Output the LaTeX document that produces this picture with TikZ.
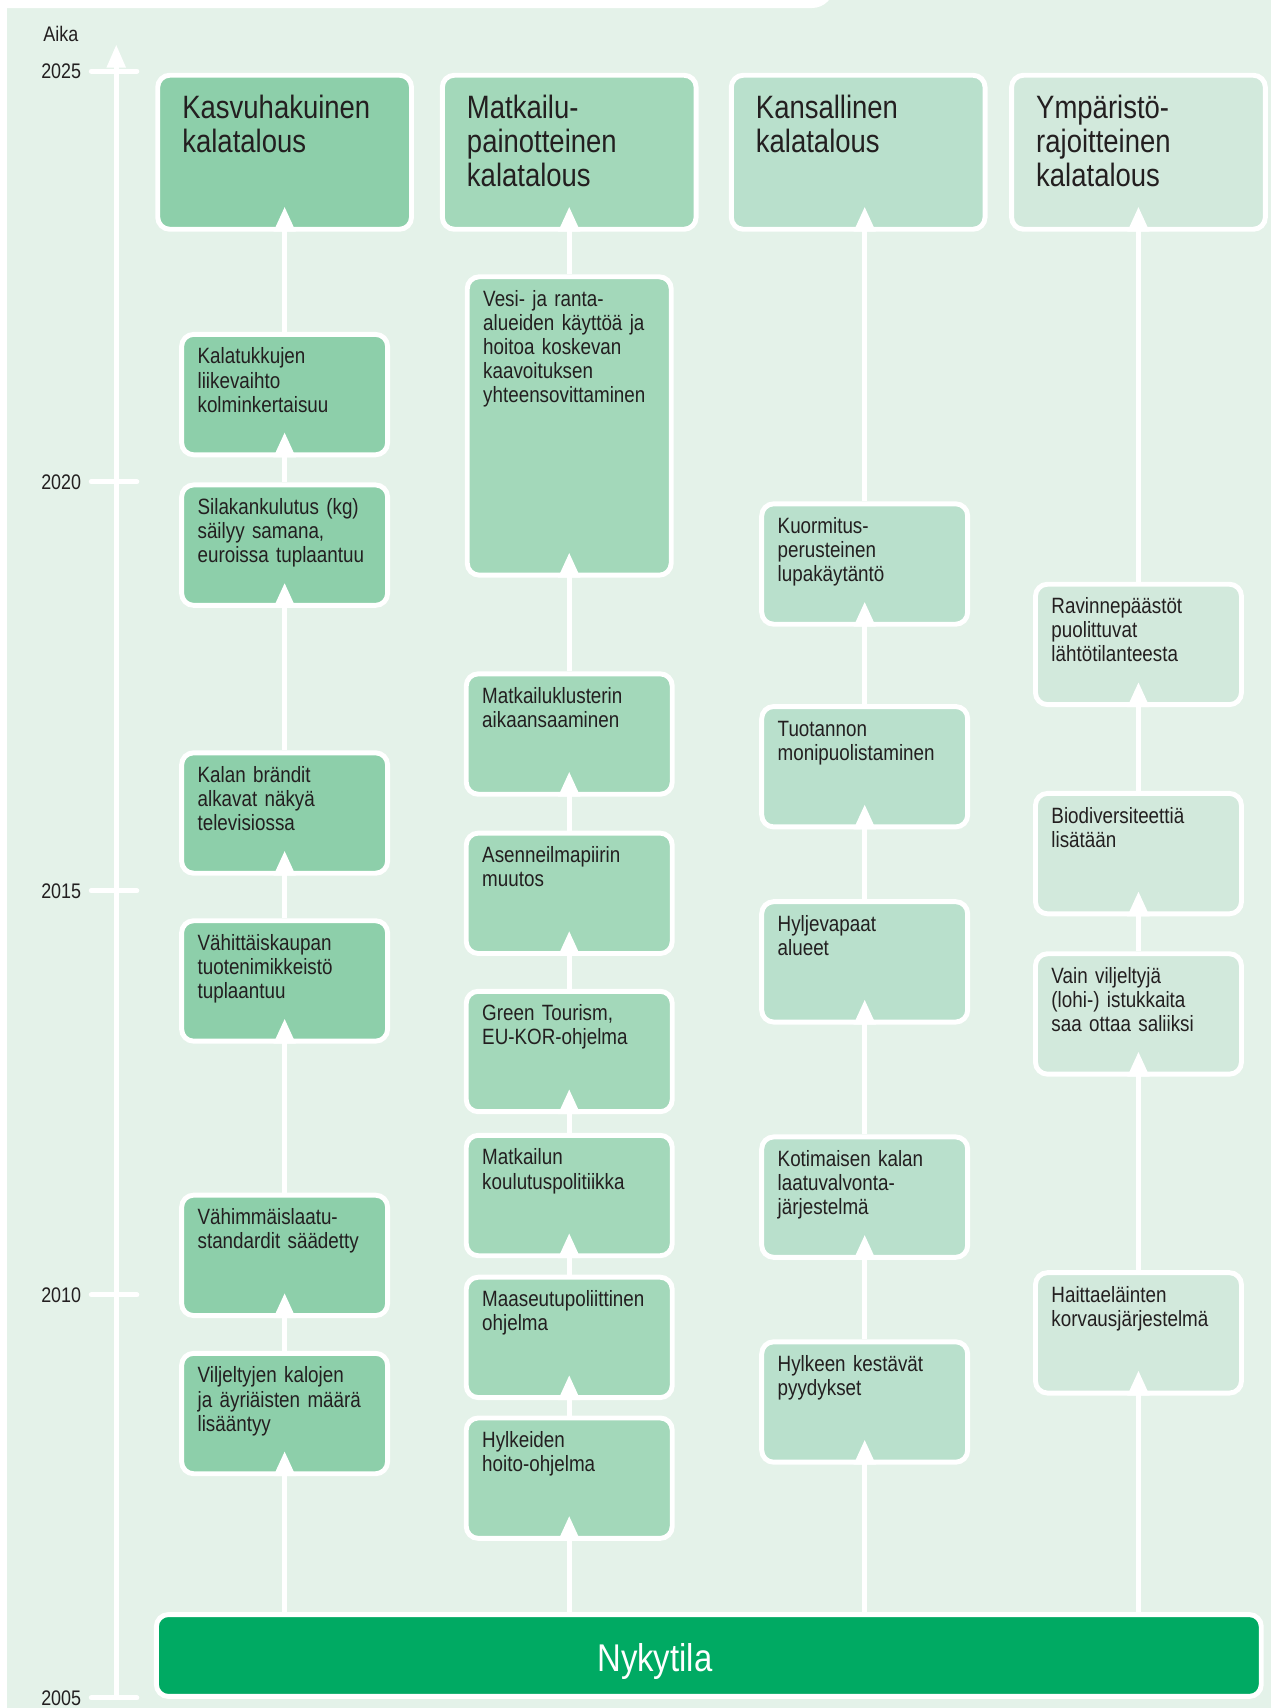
\documentclass[tikz,border=0pt]{standalone}
\usepackage{fontspec}
\setmainfont[FakeStretch=0.85]{Liberation Sans}
\usetikzlibrary{positioning,arrows.meta}

\definecolor{bgpale}{HTML}{E4F2E9}
\definecolor{kasvu}{HTML}{8DCFAA}
\definecolor{matka}{HTML}{A3D8BA}
\definecolor{kans}{HTML}{B9E0CC}
\definecolor{ymp}{HTML}{D2E9DC}
\definecolor{nyky}{HTML}{00AA63}
\definecolor{ink}{HTML}{231F20}

\begin{document}
\begin{tikzpicture}[x=0.021726cm, y=-0.021726cm,
    every node/.style={text=ink},
    base/.style={rectangle, rounded corners=0.24cm, draw=white,
                 line width=2.8pt, align=left, anchor=north},
    head/.style={base, font=\fontsize{18.4}{19.4}\selectfont,
                 text width=4.09cm, inner xsep=0.493cm, inner ysep=0.406cm,
                 text height=13.2pt, text depth=1.805cm},
    ev/.style={base, font=\fontsize{12.6}{13.7}\selectfont,
               text width=3.48cm, inner xsep=0.32cm, inner ysep=0.276cm,
               text height=9pt, text depth=1.54cm},
    yr/.style={anchor=east, inner sep=0pt, font=\fontsize{12}{14}\selectfont},
    tick/.style={draw=white, line width=2.8pt, line cap=round},
    flow/.style={draw=white, line width=2.8pt,
                 -{Triangle[width=0.42cm, length=0.5cm]}}]

   \useasboundingbox (0,0) rectangle (1170,1572.3);
   \fill[bgpale] (6.5,0) rectangle (1170,1572.3);
   \fill[white, rounded corners=0.45cm] (-30,-30) rectangle (768,7.4);

   % time axis
   \node[anchor=west, inner sep=0pt, font=\fontsize{12}{14}\selectfont] (aika) at (39.6,31) {Aika};
   \coordinate (ax0) at (107,1563);
   \coordinate (ax1) at (107,41);
   \draw[draw=white, line width=2.8pt,
         -{Triangle[width=0.36cm, length=0.46cm]}] (ax0) -- (ax1);
   \draw[tick] (84,65.5) -- (126,65.5);
   \draw[tick] (84,443.5) -- (126,443.5);
   \draw[tick] (84,820) -- (126,820);
   \draw[tick] (84,1192) -- (126,1192);
   \draw[tick] (84,1563) -- (126,1563);
   \node[yr] (y2025) at (75,65.5) {2025};
   \node[yr] (y2020) at (75,443.5) {2020};
   \node[yr] (y2015) at (75,820) {2015};
   \node[yr] (y2010) at (75,1192) {2010};
   \node[yr] (y2005) at (75,1563) {2005};

   % scenario headers
   \node[head, fill=kasvu] (h1) at (262,67) {Kasvuhakuinen\\kalatalous};
   \node[head, fill=matka] (h2) at (524,67) {Matkailu-\\painotteinen\\kalatalous};
   \node[head, fill=kans] (h3) at (790,67) {Kansallinen\\kalatalous};
   \node[head, fill=ymp] (h4) at (1048,67) {Ympäristö-\\rajoitteinen\\kalatalous};

   % column 1
   \node[ev, fill=kasvu, below=2.004cm of h1] (k1) {Kalatukkujen\\liikevaihto\\kolminkertaisuu};
   \node[ev, fill=kasvu, below=0.505cm of k1] (k2) {Silakankulutus (kg)\\säilyy samana,\\euroissa tuplaantuu};
   \node[ev, fill=kasvu, below=2.851cm of k2] (k3) {Kalan brändit\\alkavat näkyä\\televisiossa};
   \node[ev, fill=kasvu, below=0.852cm of k3] (k4) {Vähittäiskaupan\\tuotenimikkeistö\\tuplaantuu};
   \node[ev, fill=kasvu, below=2.982cm of k4] (k5) {Vähimmäislaatu-\\standardit säädetty};
   \node[ev, fill=kasvu, below=0.657cm of k5] (k6) {Viljeltyjen kalojen\\ja äyriäisten määrä\\lisääntyy};

   % column 2
   \node[ev, fill=matka, below=0.852cm of h2,
         text width=3.44cm, text depth=5.10cm] (m1) {Vesi- ja ranta-\\alueiden käyttöä ja\\hoitoa koskevan\\kaavoituksen\\yhteensovittaminen};
   \node[ev, fill=matka, below=1.875cm of m1] (m2) {Matkailuklusterin\\aikaansaaminen};
   \node[ev, fill=matka, below=0.679cm of m2] (m3) {Asenneilmapiirin\\muutos};
   \node[ev, fill=matka, below=0.657cm of m3] (m4) {Green Tourism,\\EU-KOR-ohjelma};
   \node[ev, fill=matka, below=0.374cm of m4] (m5) {Matkailun\\koulutuspolitiikka};
   \node[ev, fill=matka, below=0.331cm of m5] (m6) {Maaseutupoliittinen\\ohjelma};
   \node[ev, fill=matka, below=0.309cm of m6] (m7) {Hylkeiden\\hoito-ohjelma};

   % column 3
   \node[ev, fill=kans, below=5.393cm of h3, xshift=0.13cm] (c1) {Kuormitus-\\perusteinen\\lupakäytäntö};
   \node[ev, fill=kans, below=1.548cm of c1] (c2) {Tuotannon\\monipuolistaminen};
   \node[ev, fill=kans, below=1.396cm of c2] (c3) {Hyljevapaat\\alueet};
   \node[ev, fill=kans, below=2.199cm of c3] (c4) {Kotimaisen kalan\\laatuvalvonta-\\järjestelmä};
   \node[ev, fill=kans, below=1.591cm of c4] (c5) {Hylkeen kestävät\\pyydykset};

   % column 4
   \node[ev, fill=ymp, below=7.001cm of h4] (e1) {Ravinnepäästöt\\puolittuvat\\lähtötilanteesta};
   \node[ev, fill=ymp, below=1.678cm of e1] (e2) {Biodiversiteettiä\\lisätään};
   \node[ev, fill=ymp, below=0.700cm of e2] (e3) {Vain viljeltyjä\\(lohi-) istukkaita\\saa ottaa saliiksi};
   \node[ev, fill=ymp, below=3.872cm of e3] (e4) {Haittaeläinten\\korvausjärjestelmä};

   % present state
   \node[base, fill=nyky, minimum width=22.1cm, minimum height=1.638cm, inner sep=0pt,
         label={[text=white, font=\fontsize{22}{24}\selectfont,
                 xshift=-1.08cm, yshift=-0.11cm]center:Nykytila}]
         (ny) at (652.5,1484) {};

   % paths upwards
   \draw[flow] (ny.north -| k6) -- ([yshift=0.5cm]k6.south);
   \draw[flow] (k6) -- ([yshift=0.5cm]k5.south);
   \draw[flow] (k5) -- ([yshift=0.5cm]k4.south);
   \draw[flow] (k4) -- ([yshift=0.5cm]k3.south);
   \draw[flow] (k3) -- ([yshift=0.5cm]k2.south);
   \draw[flow] (k2) -- ([yshift=0.5cm]k1.south);
   \draw[flow] (k1) -- ([yshift=0.5cm]h1.south);

   \draw[flow] (ny.north -| m7) -- ([yshift=0.5cm]m7.south);
   \draw[flow] (m7) -- ([yshift=0.5cm]m6.south);
   \draw[flow] (m6) -- ([yshift=0.5cm]m5.south);
   \draw[flow] (m5) -- ([yshift=0.5cm]m4.south);
   \draw[flow] (m4) -- ([yshift=0.5cm]m3.south);
   \draw[flow] (m3) -- ([yshift=0.5cm]m2.south);
   \draw[flow] (m2) -- ([yshift=0.5cm]m1.south);
   \draw[flow] (m1) -- ([yshift=0.5cm]h2.south);

   \draw[flow] (ny.north -| c5) -- ([yshift=0.5cm]c5.south);
   \draw[flow] (c5) -- ([yshift=0.5cm]c4.south);
   \draw[flow] (c4) -- ([yshift=0.5cm]c3.south);
   \draw[flow] (c3) -- ([yshift=0.5cm]c2.south);
   \draw[flow] (c2) -- ([yshift=0.5cm]c1.south);
   \draw[flow] (c1) -- ([yshift=0.5cm]c1.north |- h3.south);

   \draw[flow] (ny.north -| e4) -- ([yshift=0.5cm]e4.south);
   \draw[flow] (e4) -- ([yshift=0.5cm]e3.south);
   \draw[flow] (e3) -- ([yshift=0.5cm]e2.south);
   \draw[flow] (e2) -- ([yshift=0.5cm]e1.south);
   \draw[flow] (e1) -- ([yshift=0.5cm]h4.south);
\end{tikzpicture}
\end{document}
